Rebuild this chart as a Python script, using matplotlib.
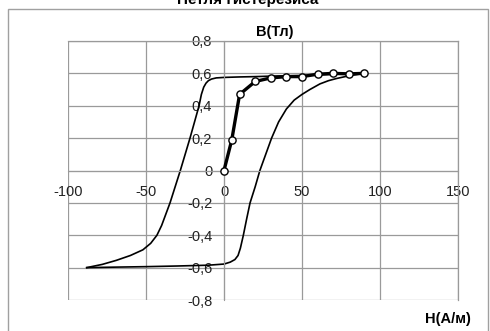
import numpy as np
import matplotlib.pyplot as plt
from matplotlib.patches import Rectangle

# hysteresis loop, upper (descending) branch
H_down = [90, 80, 70, 60, 50, 40, 30, 20, 10, 0, -5, -8, -10, -11.5, -13, -14.5,
          -16, -18.6, -21.8, -28, -34.6, -40, -43, -47, -52, -60, -69, -78, -88]
B_down = [0.60, 0.597, 0.594, 0.59, 0.587, 0.585, 0.583, 0.58, 0.578, 0.575, 0.572,
          0.565, 0.555, 0.54, 0.515, 0.47, 0.40, 0.31, 0.20, 0.0, -0.2, -0.34, -0.40,
          -0.45, -0.49, -0.525, -0.555, -0.58, -0.60]
# lower (ascending) branch
H_up = [-88, -70, -50, -30, -10, 0, 4, 7, 9, 10.5, 12.4, 14.5, 16.7, 20, 23, 26,
        30.5, 35, 40, 45, 50, 55, 61.5, 67, 72, 80, 90]
B_up = [-0.60, -0.597, -0.594, -0.59, -0.585, -0.578, -0.566, -0.55, -0.525, -0.48,
        -0.40, -0.30, -0.20, -0.10, 0.0, 0.08, 0.20, 0.30, 0.38, 0.435, 0.47, 0.50,
        0.535, 0.555, 0.568, 0.585, 0.60]
# initial magnetization curve
H_init = [0, 5, 10, 20, 30, 40, 50, 60, 70, 80, 90]
B_init = [0, 0.19, 0.47, 0.55, 0.572, 0.58, 0.58, 0.595, 0.6, 0.597, 0.6]

x_ticks = [-100, -50, 0, 50, 100, 150]
x_labels = ['-100', '-50', '0', '50', '100', '150']
y_ticks = [-0.8, -0.6, -0.4, -0.2, 0, 0.2, 0.4, 0.6, 0.8]
y_labels = ['-0,8', '-0,6', '-0,4', '-0,2', '0', '0,2', '0,4', '0,6', '0,8']

plt.rcParams['font.family'] = ['Liberation Sans', 'DejaVu Sans']
W, Hpx = 490, 331
fig = plt.figure(figsize=(W / 100, Hpx / 100), dpi=100)
fig.patch.set_facecolor('white')

# outer chart border
fig.patches.append(Rectangle((8 / W, -0.05), 480 / W, 1 - 9 / Hpx + 0.05,
                             transform=fig.transFigure, fill=False,
                             edgecolor='#a0a0a0', linewidth=1.0))

ax = fig.add_axes([68 / W, 1 - 300 / Hpx, 390 / W, 259 / Hpx])
grid_c = '#9a9a9a'
ax.set_xlim(-100, 150)
ax.set_ylim(-0.8, 0.8)
ax.set_xticks(x_ticks)
ax.set_xticklabels(x_labels)
ax.set_yticks(y_ticks)
ax.set_yticklabels(y_labels)
ax.grid(True, color=grid_c, linewidth=0.9)
ax.set_axisbelow(True)
for s in ['top', 'right']:
    ax.spines[s].set_color(grid_c)
    ax.spines[s].set_linewidth(0.9)
ax.spines['left'].set_position(('data', 0))
ax.spines['bottom'].set_position(('data', 0))
ax.spines['left'].set_color(grid_c)
ax.spines['bottom'].set_color(grid_c)
ax.tick_params(axis='both', length=0, labelsize=10.5, colors='black')
ax.tick_params(axis='y', pad=8.5)
ax.tick_params(axis='x', pad=10.5)
for lab in ax.get_xticklabels() + ax.get_yticklabels():
    lab.set_color('#222222')

ax.plot(H_down, B_down, color='black', linewidth=1.2, clip_on=False)
ax.plot(H_up, B_up, color='black', linewidth=1.2, clip_on=False)
ax.plot(H_init, B_init, color='black', linewidth=2.4, marker='o', markersize=5.2,
        markerfacecolor='white', markeredgecolor='black', markeredgewidth=1.0,
        clip_on=False, zorder=5)

fig.text(248 / W, 1 - 4 / Hpx, 'Петля гистерезиса', ha='center', va='baseline',
         fontsize=11, fontweight='bold')
fig.text(275 / W, 1 - 32 / Hpx, 'B(Тл)', ha='center', va='center',
         fontsize=10.5, fontweight='bold')
fig.text(448 / W, 1 - 319 / Hpx, 'H(А/м)', ha='center', va='center',
         fontsize=10.5, fontweight='bold')

fig.savefig('out.png', dpi=100)
